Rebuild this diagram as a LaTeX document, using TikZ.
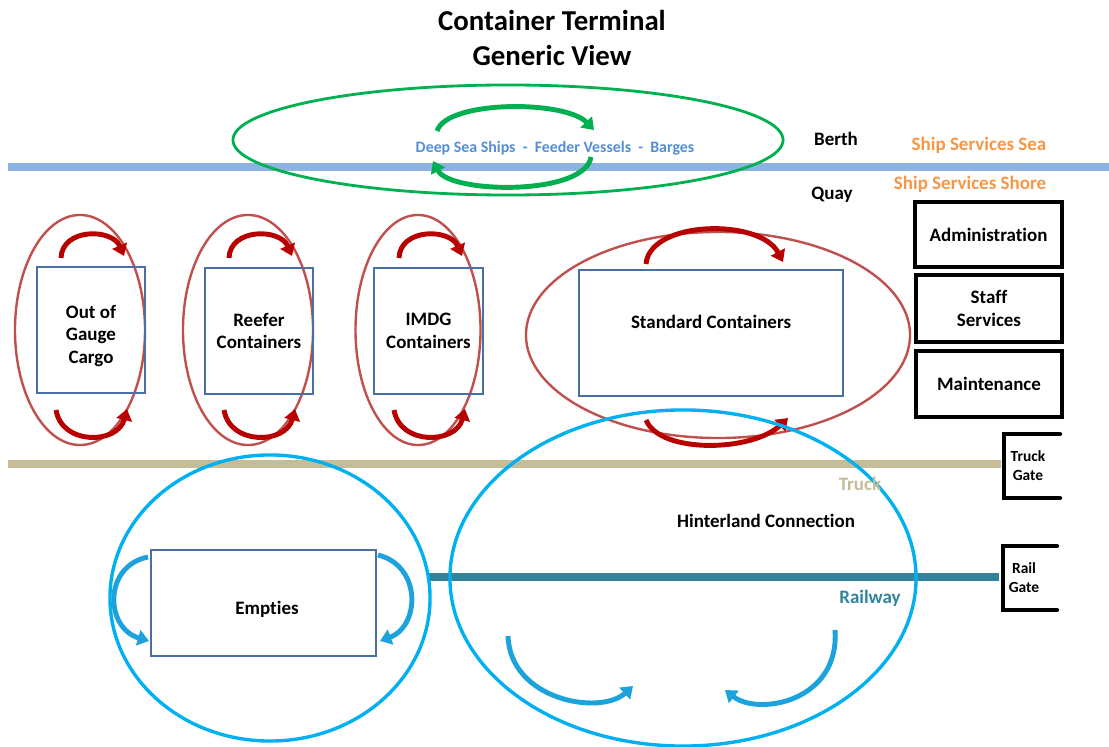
\documentclass[tikz,border=0pt]{standalone}
\usepackage{fontspec}
\setmainfont{Carlito}[Ligatures=NoCommon]
\usetikzlibrary{shapes.geometric,arrows.meta}
\definecolor{redring}{HTML}{C0504D}
\definecolor{redarrow}{HTML}{B80000}
\definecolor{greenring}{HTML}{00B050}
\definecolor{cyanring}{HTML}{00B0F0}
\definecolor{cyanarrow}{HTML}{1CA3DC}
\definecolor{boxblue}{HTML}{4A6FA5}
\definecolor{sealine}{HTML}{8DB3E2}
\definecolor{truckline}{HTML}{C4BD97}
\definecolor{railline}{HTML}{31849B}
\definecolor{shiptext}{HTML}{F79646}
\definecolor{vesseltext}{HTML}{558ED5}
\tikzset{
  ring/.style={ellipse, draw, inner sep=0pt, line width=1.7pt},
  redring/.style={ring, draw=redring},
  cyanring/.style={ring, draw=cyanring, line width=2.4pt},
  bluebox/.style={draw=boxblue, line width=1.5pt, inner sep=0pt, font=\bfseries\fontsize{13.5}{16.3}\selectfont, align=center},
  blackbox/.style={draw=black, line width=2.2pt, inner sep=0pt, font=\bfseries\fontsize{13.5}{16.3}\selectfont, align=center},
  lbl/.style={font=\bfseries\fontsize{13.5}{16.3}\selectfont, align=center, inner sep=0pt},
  small/.style={font=\bfseries\fontsize{11}{13.5}\selectfont, align=center, inner sep=0pt},
  flow/.style={line width=3.5pt, -{Triangle[length=8pt,width=11pt]}},
  redflow/.style={flow, draw=redarrow, color=redarrow},
  greenflow/.style={flow, draw=greenring, color=greenring},
  cyanflow/.style={flow, draw=cyanarrow, color=cyanarrow},
  track/.style={line width=6.3pt},
  gate/.style={line width=3pt, line cap=round}
}
\begin{document}
\begin{tikzpicture}[x=0.025cm, y=-0.025cm]
\useasboundingbox[fill=white] (0,0) rectangle (1109,747);

% title
\node[font=\bfseries\fontsize{20.5}{24.8}\selectfont, align=center] (title) at (552,38) {Container Terminal\\Generic View};

% tracks
\coordinate (seaL) at (8,167);
\coordinate (seaR) at (1109,167);
\draw[track, sealine] (seaL) -- (seaR);
\coordinate (truckL) at (8,464);
\coordinate (truckR) at (1001,464);
\draw[track, truckline] (truckL) -- (truckR);
\coordinate (railL) at (428,577);
\coordinate (railR) at (999,577);
\draw[track, railline] (railL) -- (railR);

% sea side
\node[ring, draw=greenring, line width=2pt, minimum width=13.75cm, minimum height=2.75cm] (ships) at (508,140) {};
\node[small, font=\bfseries\fontsize{11.3}{13.5}\selectfont, text=vesseltext] (vessels) at (555,148) {Deep Sea Ships\ \ -\ \ Feeder Vessels\ \ -\ \ Barges};
\coordinate (g1) at (437,131);
\coordinate (g2) at (594,130);
\coordinate (g3) at (591,157);
\coordinate (g4) at (433,161);
\draw[greenflow] (g1) .. controls (447,100) and (565,100) .. (g2);
\draw[greenflow] (g3) .. controls (585,196) and (450,194) .. (g4);

\node[lbl] (berth) at (836,139) {Berth};
\node[lbl] (quay) at (832,195) {Quay};
\node[lbl, text=shiptext] (sss) at (979,145) {Ship Services Sea};
\node[lbl, text=shiptext] (ssh) at (970,184) {Ship Services Shore};

% services
\node[blackbox, minimum width=3.675cm, minimum height=1.625cm] (adm) at (988.5,234.5) {Administration};
\node[blackbox, minimum width=3.65cm, minimum height=1.675cm] (staff) at (989,308.5) {Staff\\Services};
\node[blackbox, minimum width=3.65cm, minimum height=1.65cm] (maint) at (989,384) {Maintenance};

% special stacks
\node[redring, minimum width=3.25cm, minimum height=5.75cm] (e1) at (80,330) {};
\node[redring, minimum width=3.25cm, minimum height=5.75cm] (e2) at (248,330) {};
\node[redring, minimum width=3.125cm, minimum height=5.75cm] (e3) at (418,330) {};
\node[bluebox, minimum width=2.7cm, minimum height=3.15cm] (oog) at (91,330) {};
\node[lbl] (oogtext) at (91,336) {Out of\\Gauge\\Cargo};
\node[bluebox, minimum width=2.7cm, minimum height=3.15cm] (reefer) at (259,331) {Reefer\\Containers};
\node[bluebox, minimum width=2.725cm, minimum height=3.15cm] (imdg) at (428.5,331) {IMDG\\Containers};

\foreach \dx/\n in {0/a,168/b,338/c}{
  \coordinate (t1\n) at (61+\dx,258);
  \coordinate (t2\n) at (124+\dx,256);
  \coordinate (u1\n) at (56+\dx,410);
  \coordinate (u2\n) at (127+\dx,409);
  \draw[redflow] (t1\n) .. controls (62+\dx,228) and (112+\dx,228) .. (t2\n);
  \draw[redflow] (u1\n) .. controls (62+\dx,446) and (118+\dx,444) .. (u2\n);
}

% standard
\node[redring, minimum width=9.6cm, minimum height=5.15cm] (estd) at (718,335) {};
\node[bluebox, minimum width=6.6cm, minimum height=3.15cm] (std) at (711,333) {};
\node[lbl] (stdtext) at (711,322) {Standard Containers};
\coordinate (s1) at (646,264);
\coordinate (s2) at (783,262);
\coordinate (s3) at (646,420);
\coordinate (s4) at (788,418);
\draw[redflow] (s1) .. controls (650,220) and (760,218) .. (s2);
\draw[redflow] (s3) .. controls (660,454) and (752,452) .. (s4);

% hinterland
\node[cyanring, minimum width=8cm, minimum height=7.15cm] (c1) at (270,598) {};
\node[cyanring, minimum width=11.65cm, minimum height=8.4cm] (c2) at (683,578) {};
\node[bluebox, minimum width=5.625cm, minimum height=2.65cm] (empties) at (263.5,603) {};
\node[lbl] (emptiestext) at (267,609) {Empties};
\node[lbl] (hinter) at (766,521) {Hinterland Connection};
\node[lbl, text=truckline] (trucklbl) at (860,484) {Truck};
\node[lbl, text=railline] (raillbl) at (870,598) {Railway};

\coordinate (m1) at (148,557);
\coordinate (m2) at (149,641);
\coordinate (m3) at (378,555);
\coordinate (m4) at (380,641);
\draw[cyanflow] (m1) .. controls (103,566) and (105,628) .. (m2);
\draw[cyanflow] (m3) .. controls (422,566) and (420,626) .. (m4);
\coordinate (h1) at (508,636);
\coordinate (h2) at (633,686);
\coordinate (h3) at (835,630);
\coordinate (h4) at (725,690);
\draw[cyanflow] (h1) .. controls (510,700) and (600,716) .. (h2);
\draw[cyanflow] (h3) .. controls (840,702) and (758,716) .. (h4);

% gates
\coordinate (tg1) at (1060,434);
\coordinate (tg2) at (1004,434);
\coordinate (tg3) at (1004,498);
\coordinate (tg4) at (1060,498);
\draw[gate] (tg1) -- (tg2) -- (tg3) -- (tg4);
\node[small] (truckgate) at (1028,466) {Truck\\Gate};
\coordinate (rg1) at (1057,546);
\coordinate (rg2) at (1003,546);
\coordinate (rg3) at (1003,610);
\coordinate (rg4) at (1057,610);
\draw[gate] (rg1) -- (rg2) -- (rg3) -- (rg4);
\node[small] (railgate) at (1024,578) {Rail\\Gate};
\end{tikzpicture}
\end{document}
